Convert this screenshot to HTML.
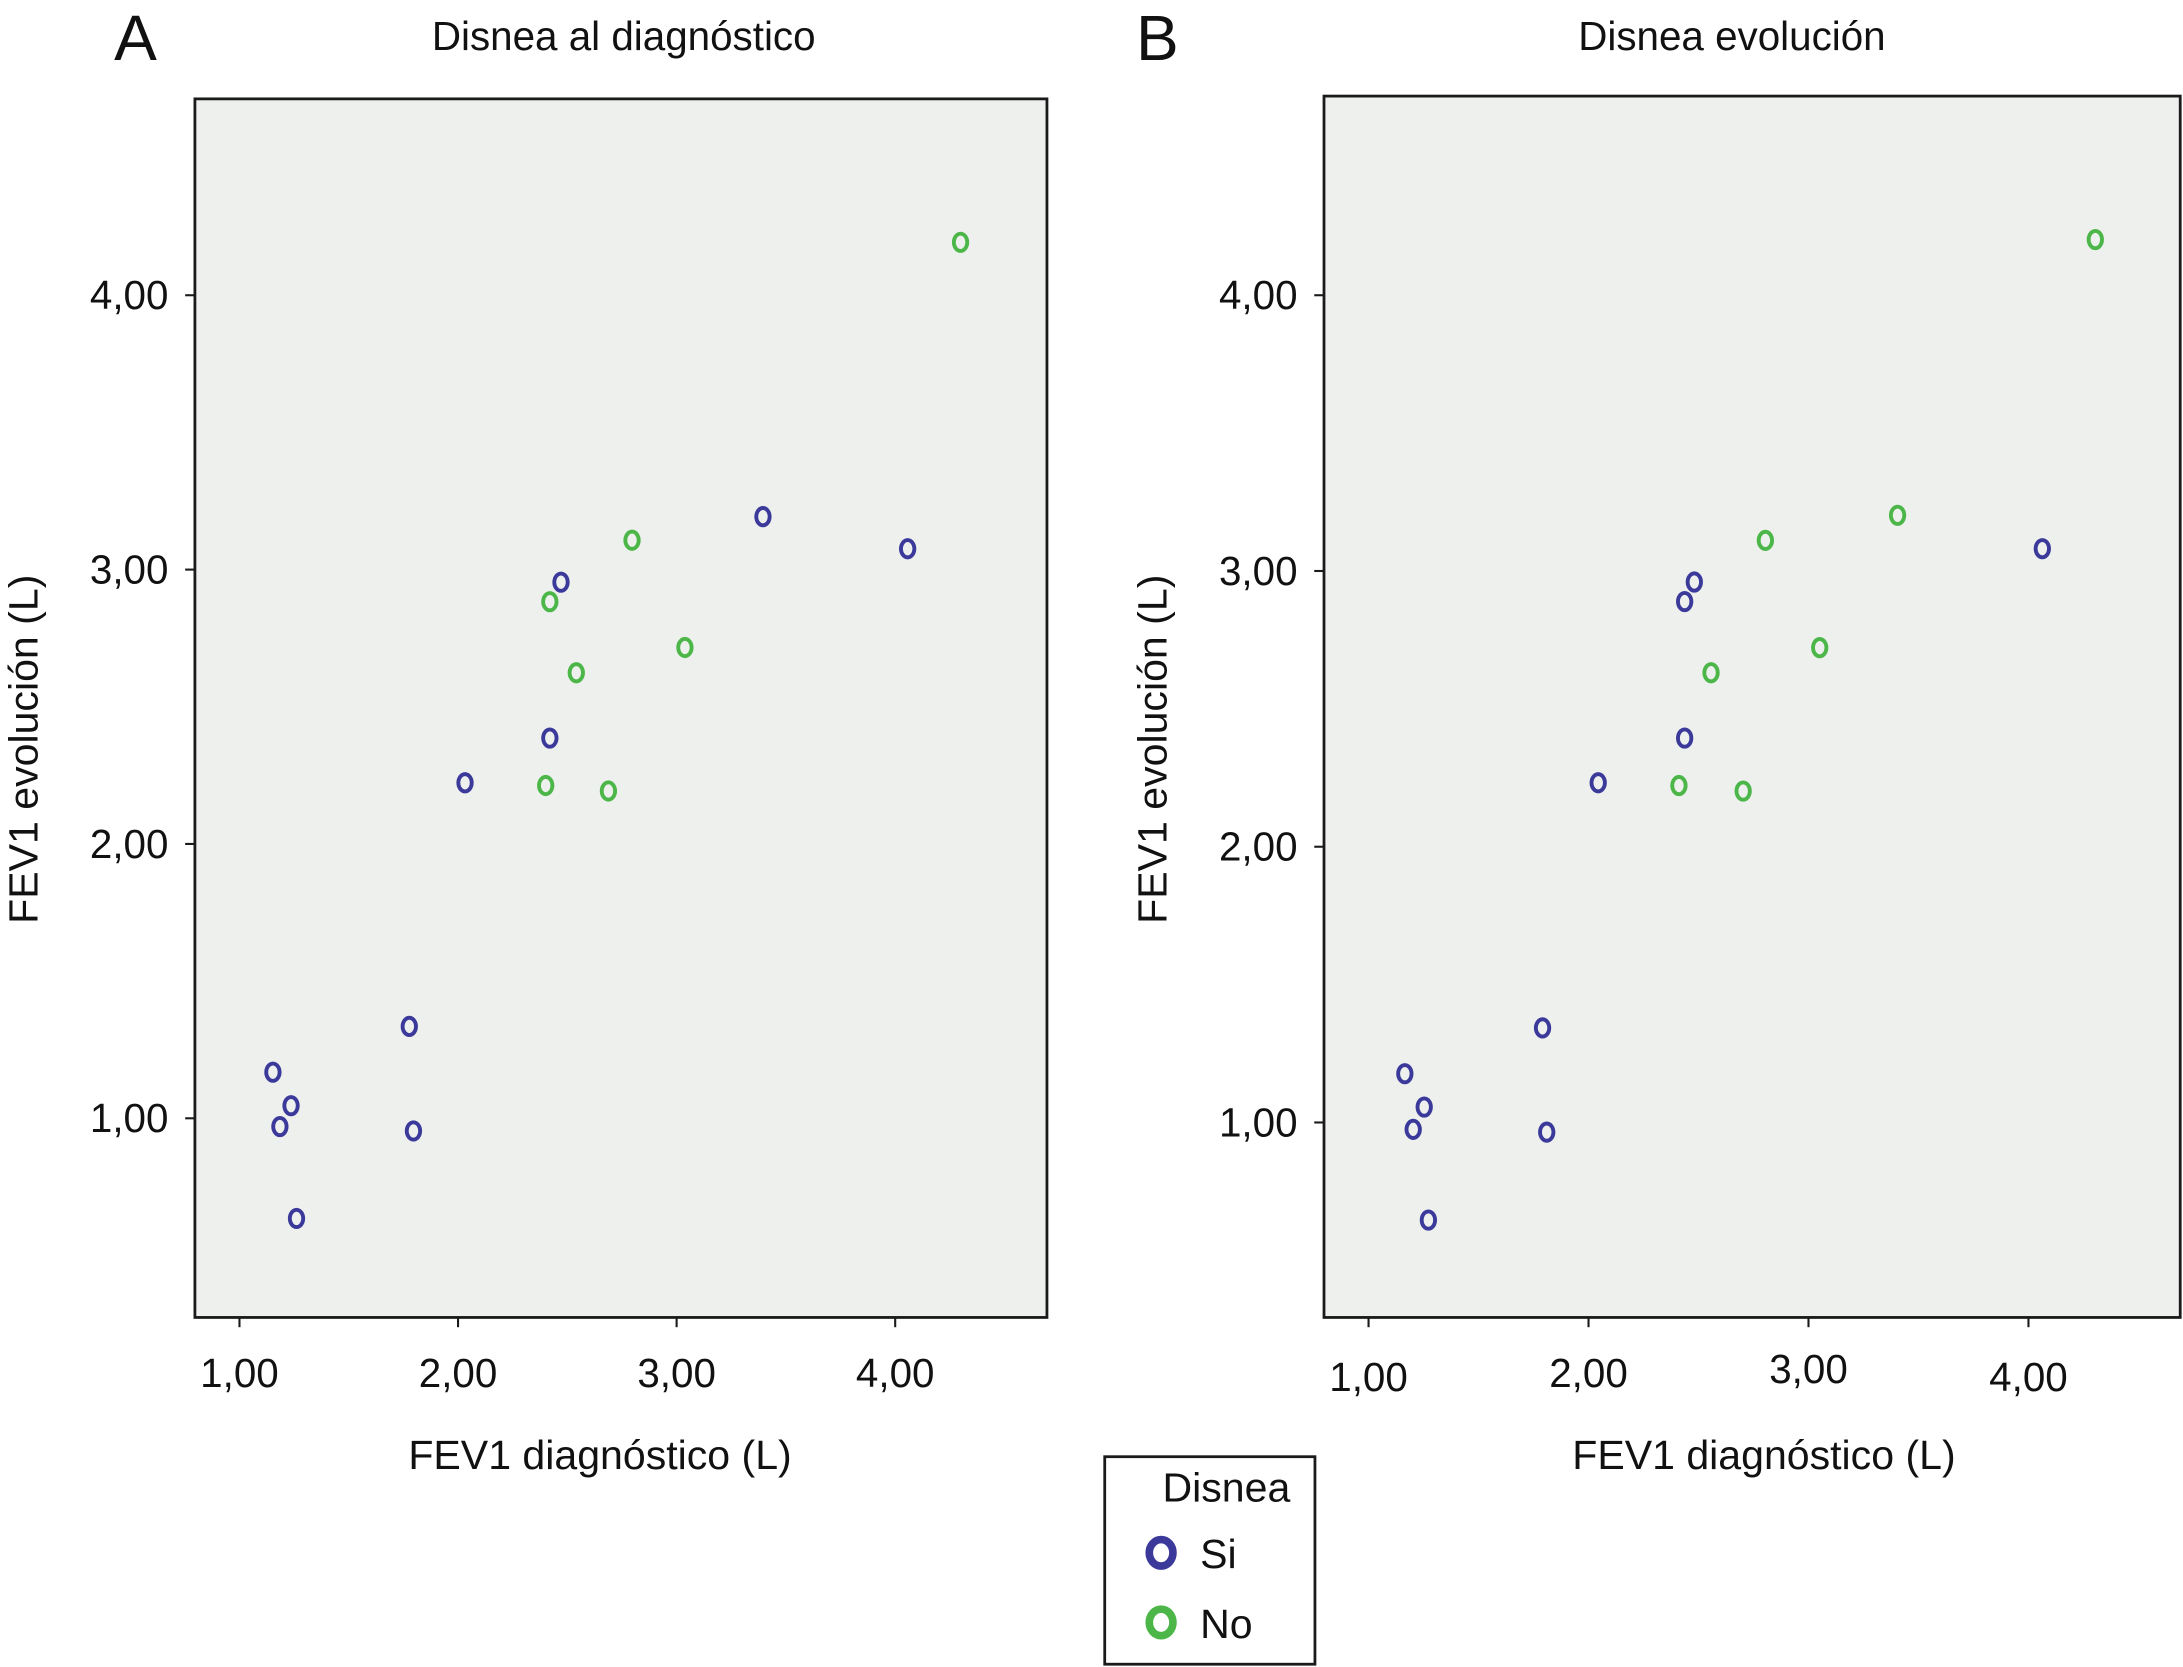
<!DOCTYPE html>
<html><head><meta charset="utf-8"><style>
html,body{margin:0;padding:0;background:#fff;}
svg{display:block;font-family:"Liberation Sans",sans-serif;}
</style></head><body>
<svg id="chart" width="2183" height="1667" viewBox="0 0 1568 1197" preserveAspectRatio="none">
<g id="root"></g>
</svg>
<script>
const xTicks=[1,2,3,4];
const yTicks=[1,2,3,4];
const tickLabels=["1,00","2,00","3,00","4,00"];
const aBlueX=[1.153,1.236,1.185,1.261,1.777,1.796,2.032,2.420,2.471,3.395,4.057];
const aBlueY=[1.168,1.046,0.970,0.635,1.335,0.954,2.223,2.386,2.954,3.193,3.076];
const aGreenX=[4.299,2.796,2.420,2.541,3.038,2.401,2.688];
const aGreenY=[4.193,3.107,2.883,2.624,2.716,2.213,2.193];
const bBlueX=[1.165,1.253,1.203,1.272,1.791,1.810,2.044,2.437,2.481,2.437,4.063];
const bBlueY=[1.177,1.056,0.975,0.646,1.343,0.965,2.232,2.394,2.960,2.889,3.081];
const bGreenX=[4.304,2.804,3.405,2.557,3.051,2.411,2.703];
const bGreenY=[4.202,3.111,3.202,2.631,2.722,2.222,2.202];
const BLUE="#3b3a9b",GREEN="#4cb748";
const NS="http://www.w3.org/2000/svg";
const root=document.getElementById('root');
function mk(tag,attrs,parent,text){const e=document.createElementNS(NS,tag);for(const k in attrs)e.setAttribute(k,attrs[k]);if(text!==undefined)e.textContent=text;(parent||root).appendChild(e);return e;}
function panel(cfg){
  const g=mk('g',{});
  
  
  const sx=v=>cfg.x1+(v-1)*cfg.xu;
  const sy=v=>cfg.y1-(v-1)*cfg.yu;
  const bg=mk('rect',{x:cfg.L,y:cfg.T,width:cfg.R-cfg.L,height:cfg.B-cfg.T,fill:'#eef0ee',stroke:'#1a1a1a','stroke-width':2},g);
  
  
  xTicks.forEach((t,i)=>{
    const x=sx(t);
    mk('line',{x1:x,x2:x,y1:cfg.B,y2:cfg.B+7,stroke:'#1a1a1a','stroke-width':1.5},g);
    const tx=mk('text',{x:x,y:cfg.B+50+(cfg.xoff?cfg.xoff[i]:0),'font-size':29,'text-anchor':'middle',fill:'#111'},g,tickLabels[i]);
    
    
  });
  yTicks.forEach((t,i)=>{
    const y=sy(t);
    mk('line',{x1:cfg.L-7,x2:cfg.L,y1:y,y2:y,stroke:'#1a1a1a','stroke-width':1.5},g);
    const ty=mk('text',{x:cfg.L-19,y:y+10,'font-size':29,'text-anchor':'end',fill:'#111'},g,tickLabels[i]);
    
    
  });
  const pts=(xs,ys,col,nm)=>xs.forEach((v,i)=>{
    const c=mk('ellipse',{cx:sx(v),cy:sy(ys[i]),rx:4.8,ry:6.2,fill:'none',stroke:col,'stroke-width':2.8},g);
    
    
  });
  pts(cfg.bx,cfg.by,BLUE,'point-si');
  pts(cfg.gx,cfg.gy,GREEN,'point-no');
  const t=mk('text',{x:cfg.tx,y:36,'font-size':29,'text-anchor':'middle',fill:'#111'},g,cfg.title);
  
  
  const l=mk('text',{x:cfg.lx,y:43,'font-size':46,fill:'#111'},g,cfg.letter);
  
  
  const xt=mk('text',{x:cfg.xtc,y:1055,'font-size':29.5,'text-anchor':'middle',fill:'#111'},g,'FEV1 diagnóstico (L)');
  
  
  const yt=mk('text',{x:0,y:0,'font-size':29.5,'text-anchor':'middle',fill:'#111',transform:`translate(${cfg.L-113},538) rotate(-90)`},g,'FEV1 evolución (L)');
  
  
}
panel({name:'panel-a',L:140,R:752,T:71,B:946,x1:172,xu:157,y1:803,yu:197,bx:aBlueX,by:aBlueY,gx:aGreenX,gy:aGreenY,title:'Disnea al diagnóstico',tx:448,letter:'A',lx:82,xtc:431});
panel({name:'panel-b',L:951,R:1566,T:69,B:946,x1:983,xu:158,y1:806,yu:198,bx:bBlueX,by:bBlueY,gx:bGreenX,gy:bGreenY,title:'Disnea evolución',tx:1244,letter:'B',lx:816,xtc:1267,xoff:[3,0,-3,3]});
const lg=mk('g',{});


mk('rect',{x:793.5,y:1046,width:151,height:149,fill:'#fff',stroke:'#1a1a1a','stroke-width':2},lg);
const lt=mk('text',{x:835,y:1078,'font-size':29.5,fill:'#111'},lg,'Disnea');


[['Si',BLUE,1115],['No',GREEN,1165]].forEach(([s,c,y])=>{
  const e=mk('ellipse',{cx:834,cy:y,rx:8.5,ry:9.5,fill:'none',stroke:c,'stroke-width':5.5},lg);
  
  
  const t=mk('text',{x:862,y:y+11,'font-size':29.5,fill:'#111'},lg,s);
  
  
});
</script>
</body></html>
